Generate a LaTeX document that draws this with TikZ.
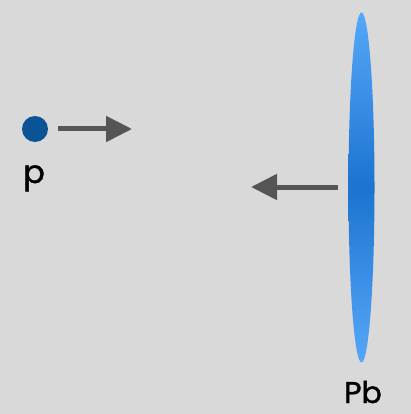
\documentclass[tikz,border=0pt]{standalone}
\usepackage{fontspec}
\setmainfont{Poppins}[FakeBold=1.2]
\usetikzlibrary{arrows.meta}
\definecolor{bg}{HTML}{D9D9D9}
\definecolor{proton}{HTML}{0B5394}
\definecolor{arrowgray}{HTML}{555555}
\definecolor{leadlight}{HTML}{55A8F7}
\definecolor{leadmid}{HTML}{3B8FE6}
\definecolor{leaddark}{HTML}{1C74CF}
% smooth light-dark-light gradient along the long axis of the nucleus
% (the 25bp..75bp band is what covers the shaded path)
\pgfdeclareverticalshading{leadgrad}{100bp}{%
  color(0bp)=(leadlight); color(25bp)=(leadlight);
  color(37bp)=(leadmid);
  color(50bp)=(leaddark);
  color(63bp)=(leadmid);
  color(75bp)=(leadlight); color(100bp)=(leadlight)}
\tikzset{
  beam/.style={draw=arrowgray, line width=5pt,
    -{Triangle[length=26pt,width=25pt]}},
  lbl/.style={text=black, inner sep=0pt}
}
\begin{document}
\begin{tikzpicture}[x=1pt,y=-1pt]
  % canvas
  \fill[bg] (0,0) rectangle (411,414);
  \useasboundingbox (0,0) rectangle (411,414);
  % proton and its direction of motion
  \node[circle, fill=proton, minimum size=26pt, inner sep=0pt] (p) at (35,129) {};
  \coordinate (pstart) at (58,129);
  \coordinate (pend) at (132,129);
  \draw[beam] (pstart) -- (pend);
  \node[lbl, anchor=base, font=\fontsize{32}{34}\selectfont] (plabel) at (34,183) {p};
  % Lorentz-contracted lead nucleus
  \shade[shading=leadgrad]
    (361.5,187.5) ellipse [x radius=13, y radius=175];
  \coordinate (pbstart) at (338,187);
  \coordinate (pbend) at (251,187);
  \draw[beam] (pbstart) -- (pbend);
  \node[lbl, anchor=base, font=\fontsize{30}{32}\selectfont] (pblabel) at (363,403) {Pb};
\end{tikzpicture}
\end{document}
